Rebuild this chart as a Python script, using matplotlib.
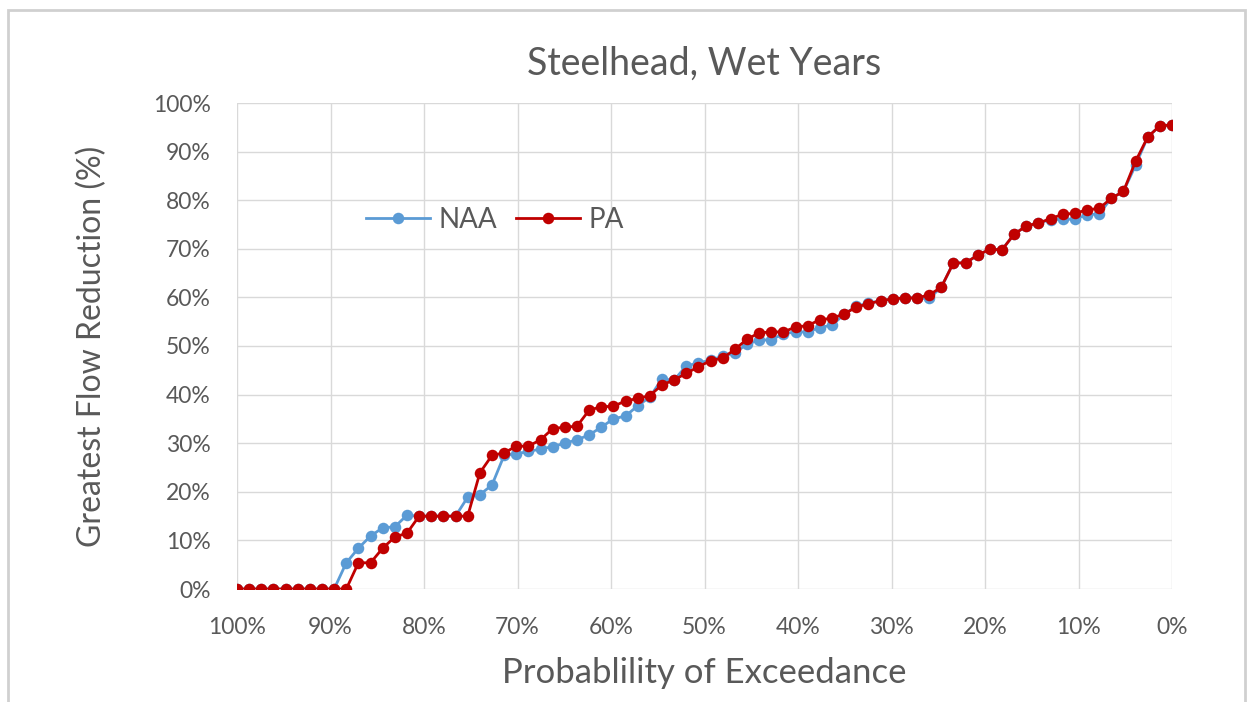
import matplotlib
matplotlib.use("Agg")
import matplotlib.pyplot as plt
from matplotlib.patches import Rectangle
from matplotlib.ticker import FixedLocator, FuncFormatter

plt.rcParams['font.family'] = ['Lato', 'DejaVu Sans']

title = "Steelhead, Wet Years"
xlabel = "Probablility of Exceedance"
ylabel = "Greatest Flow Reduction (%)"
series_names = ["NAA", "PA"]

naa = [0, 0, 0, 0, 0, 0, 0, 0, 0, 5.4,
       8.4, 10.9, 12.6, 12.8, 15.2, 15.0, 15.0, 15.0, 15.0, 18.9,
       19.4, 21.4, 27.5, 27.8, 28.3, 28.8, 29.3, 30.0, 30.7, 31.7,
       33.3, 35.0, 35.6, 37.7, 39.5, 43.2, 43.0, 45.9, 46.5, 47.1,
       47.9, 48.6, 50.4, 51.2, 51.3, 52.5, 52.9, 52.9, 53.8, 54.3,
       56.5, 58.2, 58.8, 59.3, 59.7, 59.9, 59.9, 59.8, 62.1, 67.1,
       67.1, 68.7, 69.9, 69.8, 73.0, 74.7, 75.3, 76.0, 76.1, 76.1,
       77.0, 77.2, 80.4, 81.8, 87.2, 93.0, 95.3, 95.5]

pa = [0, 0, 0, 0, 0, 0, 0, 0, 0, 0,
      5.4, 5.4, 8.4, 10.7, 11.5, 15.0, 15.0, 15.0, 15.0, 15.0,
      23.9, 27.5, 28.0, 29.4, 29.4, 30.7, 33.0, 33.3, 33.5, 36.8,
      37.5, 37.6, 38.7, 39.2, 39.8, 42.0, 43.0, 44.4, 45.7, 47.0,
      47.5, 49.3, 51.4, 52.7, 52.9, 52.9, 53.9, 54.2, 55.4, 55.7,
      56.6, 58.0, 58.7, 59.3, 59.7, 59.9, 59.9, 60.5, 62.1, 67.1,
      67.1, 68.7, 69.9, 69.8, 73.0, 74.7, 75.3, 76.2, 77.1, 77.3,
      78.0, 78.3, 80.4, 81.8, 88.0, 93.0, 95.3, 95.5]

n = len(pa)
exceedance = [100.0 * (1 - k / (n - 1)) for k in range(n)]

x_ticks = [100, 90, 80, 70, 60, 50, 40, 30, 20, 10, 0]
y_ticks = [0, 10, 20, 30, 40, 50, 60, 70, 80, 90, 100]

text_color = "#595959"
grid_color = "#d9d9d9"
naa_color = "#5b9bd5"
pa_color = "#c00000"

W, H = 1247, 702
fig = plt.figure(figsize=(W / 100, H / 100), dpi=100)
fig.patch.set_facecolor("white")

# outer chart border
fig.patches.append(Rectangle((8 / W, -0.01), (1245 - 8) / W, (H - 10) / H + 0.01,
                             transform=fig.transFigure, fill=False,
                             edgecolor="#d0d0d0", linewidth=2))

ax = fig.add_axes([237 / W, 1 - 589 / H, (1172 - 237) / W, (589 - 103) / H])

ax.plot(exceedance, naa, color=naa_color, linewidth=2.0, marker="o",
        markersize=8.3, markeredgewidth=0, label=series_names[0], zorder=3)
ax.plot(exceedance, pa, color=pa_color, linewidth=2.0, marker="o",
        markersize=8.3, markeredgewidth=0, label=series_names[1], zorder=4)

ax.set_xlim(100, 0)
ax.set_ylim(0, 100)
ax.xaxis.set_major_locator(FixedLocator(x_ticks))
ax.yaxis.set_major_locator(FixedLocator(y_ticks))
ax.xaxis.set_major_formatter(FuncFormatter(lambda v, p: f"{v:.0f}%"))
ax.yaxis.set_major_formatter(FuncFormatter(lambda v, p: f"{v:.0f}%"))

ax.grid(True, color=grid_color, linewidth=1.0, zorder=0)
ax.set_axisbelow(True)
for s in ax.spines.values():
    s.set_visible(False)
ax.tick_params(axis="both", length=0, colors=text_color, labelsize=16.5)
ax.tick_params(axis="y", pad=19)
ax.tick_params(axis="x", pad=20)

ax.set_title(title, fontsize=27, color=text_color, pad=20)
ax.set_xlabel(xlabel, fontsize=25, color=text_color, labelpad=14)
ax.set_ylabel(ylabel, fontsize=23, color=text_color, labelpad=33)

leg = ax.legend(loc="center left", bbox_to_anchor=(0.111, 0.759), ncol=2,
                frameon=False, fontsize=20, handlelength=2.3,
                handletextpad=0.3, columnspacing=0.7)
for t in leg.get_texts():
    t.set_color(text_color)

fig.savefig("out.png", dpi=100, facecolor="white")
